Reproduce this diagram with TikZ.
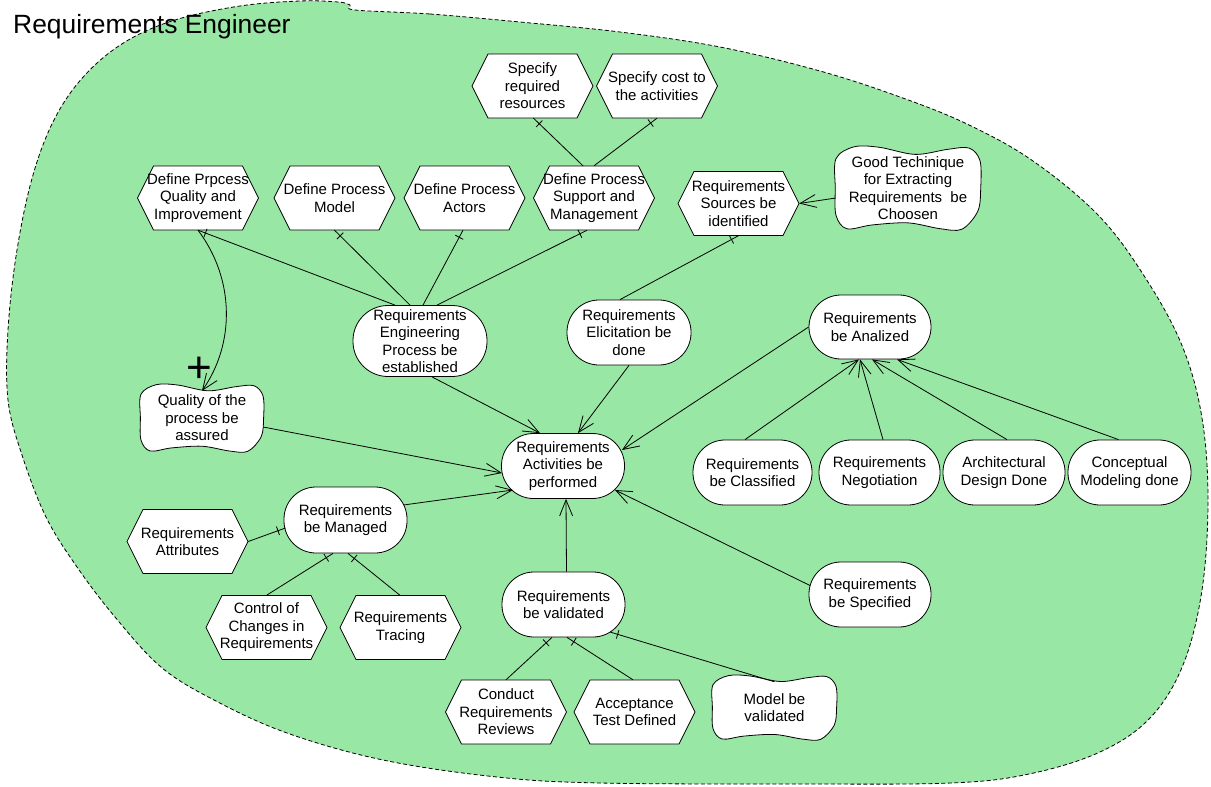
\documentclass[tikz,border=0pt]{standalone}
\usepackage{fontspec}
\setmainfont{Liberation Sans}
\usetikzlibrary{arrows.meta,decorations.markings}

\definecolor{areagreen}{RGB}{152,231,164}
\newcommand\lblfont{\fontsize{15pt}{17.5pt}\selectfont}

\tikzset{
  conn/.style={line width=0.8pt, draw=black},
  meansend/.style={conn, -{Straight Barb[length=16pt,width=13pt]}},
  declink/.style={conn, postaction={decorate, decoration={markings,
      mark=at position 8pt with {\draw[conn] (0pt,-4.5pt) -- (0pt,4.5pt);}}}},
  goalbox/.style={draw, fill=white, line width=0.8pt, rectangle, rounded corners=32pt,
      inner sep=0pt, align=center, font=\lblfont},
  hexshape/.style={draw, fill=white, line width=0.8pt},
  hexlabel/.style={rectangle, inner sep=0pt, minimum width=121pt, minimum height=64pt,
      align=center, font=\lblfont},
  wavyshape/.style={draw, fill=white, line width=0.8pt},
  wavylabel/.style={rectangle, inner sep=0pt, align=center, font=\lblfont},
}

% task: hexagon around a named label node
\newcommand\hexnode[4]{%
  \path[hexshape] ({#2-60.5},#3) -- ++(16,-32) -- ++(89,0) -- ++(16,32)
        -- ++(-16,32) -- ++(-89,0) -- cycle;
  \node[hexlabel] (#1) at (#2,#3) {#4};}

% softgoal: wavy cloud around a named label node (name, x, y, half width, half height, text)
\newcommand\wavynode[6]{%
  \path[wavyshape, shift={(#2,#3)}, xscale=#4, yscale=#5]
    plot[smooth cycle, tension=0.55] coordinates {
      (-1,-0.7) (-0.75,-0.98) (-0.4,-0.97) (0.1,-0.8) (0.55,-0.92) (0.85,-0.95)
      (1,-0.65) (1.01,0) (0.97,0.55) (0.75,0.98) (0.45,0.97) (0,0.83)
      (-0.5,0.88) (-0.85,0.97) (-1,0.65) (-1.01,0)};
  \node[wavylabel, minimum width={2*#4pt}, minimum height={2*#5pt}] (#1) at (#2,#3) {#6};}

\begin{document}
\begin{tikzpicture}[x=1pt,y=-1pt]
\fill[white] (0,0) rectangle (1211,787);
\useasboundingbox (0,0) rectangle (1211,787);

% actor boundary
\path[fill=areagreen, draw=black, line width=0.8pt, dash pattern=on 4pt off 2.5pt]
  plot[smooth cycle, tension=0.6] coordinates {
    (355,10) (430,14) (520,22) (620,32) (720,47) (820,71) (900,97) (967,124)
    (1033,161) (1100,217) (1148,282) (1183,348) (1202,418) (1208,500)
    (1202,590) (1183,665) (1150,718) (1100,752) (1029,774) (951,783) (800,784)
    (600,783) (497,777) (383,760) (287,733) (214,700) (161,667) (115,617) (77,567)
    (46,517) (22,455) (8,400) (8,330) (17,250) (33,175) (55,118) (85,75)
    (125,42) (175,20) (240,6) (300,1) (338,2) (350,5)};

% tasks
\hexnode{sres}{532.5}{86}{Specify\\required\\resources}
\hexnode{scost}{657}{86}{Specify cost to\\the activities}
\hexnode{defQ}{198}{198}{Define Prpcess\\Quality and\\Improvement}
\hexnode{defModel}{334.5}{198}{Define Process\\Model}
\hexnode{defActors}{464.5}{198}{Define Process\\Actors}
\hexnode{support}{594}{198}{Define Process\\Support and\\Management}
\hexnode{sources}{738.5}{203.5}{Requirements\\Sources be\\identified}
\hexnode{attributes}{187.5}{541.5}{Requirements\\Attributes}
\hexnode{control}{266.5}{627.5}{Control of\\Changes in\\Requirements}
\hexnode{tracing}{400.5}{627.5}{Requirements\\Tracing}
\hexnode{reviews}{506}{712}{Conduct\\Requirements\\Reviews}
\hexnode{accept}{634.5}{712}{Acceptance\\Test Defined}

% softgoals
\wavynode{good}{908}{188}{72}{42}{Good Techinique\\for Extracting\\Requirements\ \ be\\Choosen}
\wavynode{quality}{202}{418}{61}{34}{Quality of the\\process be\\assured}
\wavynode{model}{774.5}{707.5}{61.5}{32.5}{Model be\\validated}

% goals
\node[goalbox, rounded corners=35pt, minimum width=134pt, minimum height=71pt] (engproc) at (420,341)
  {Requirements\\Engineering\\Process be\\established};
\node[goalbox, minimum width=124pt, minimum height=65pt] (elicit) at (629,332.5) {Requirements\\Elicitation be\\done};
\node[goalbox, minimum width=122pt, minimum height=64pt] (analized) at (870,327) {Requirements\\be Analized};
\node[goalbox, minimum width=123pt, minimum height=65pt] (activities) at (563,466) {Requirements\\Activities be\\performed};
\node[goalbox, minimum width=119pt, minimum height=65pt] (classified) at (752.5,472.5) {Requirements\\be Classified};
\node[goalbox, minimum width=121pt, minimum height=65pt] (negotiation) at (879.5,472.5) {Requirements\\Negotiation};
\node[goalbox, minimum width=122pt, minimum height=65pt] (arch) at (1004,472.5) {Architectural\\Design Done};
\node[goalbox, minimum width=123pt, minimum height=65pt] (concept) at (1129.5,472.5) {Conceptual\\Modeling done};
\node[goalbox, minimum width=123pt, minimum height=66pt] (managed) at (345.5,520) {Requirements\\be Managed};
\node[goalbox, minimum width=123pt, minimum height=65pt] (validated) at (563.5,604.5) {Requirements\\be validated};
\node[goalbox, minimum width=122pt, minimum height=65pt] (specified) at (870,594.5) {Requirements\\be Specified};

% decomposition links
\draw[declink] ([xshift=1pt]sres.south) -- ([xshift=-11pt]support.north);
\draw[declink] (scost.south) -- (support.north);
\draw[declink] (defQ.south) -- ([xshift=-25pt]engproc.north);
\draw[declink] (defModel.south) -- ([xshift=-10pt]engproc.north);
\draw[declink] ([xshift=-1.5pt]defActors.south) -- ([xshift=3pt]engproc.north);
\draw[declink] ([xshift=-7pt]support.south) -- ([xshift=17pt]engproc.north);
\draw[declink] (sources.south) -- ([xshift=-9pt]elicit.north);
\draw[declink] ([xshift=-60pt,yshift=-8pt]managed.center) -- (attributes.east);
\draw[declink] ([xshift=-12.5pt]managed.south) -- (control.north);
\draw[declink] ([xshift=2.5pt]managed.south) -- ([xshift=-0.5pt]tracing.north);
\draw[declink] ([xshift=-11.5pt]validated.south) -- (reviews.north);
\draw[declink] ([xshift=3.5pt]validated.south) -- ([xshift=-1.5pt]accept.north);
\draw[declink] ([xshift=46.5pt,yshift=-27.5pt]validated.center) -- ([yshift=-7pt]model.north);

% means-end and contribution links
\draw[meansend] ([yshift=-10pt]good.west) -- (sources.east);
\draw[meansend] ([xshift=12pt]engproc.south) -- ([xshift=-23pt]activities.north);
\draw[meansend] (elicit.south) -- ([xshift=15pt]activities.north);
\draw[meansend] (analized.west) -- ([xshift=59pt,yshift=16pt]activities.center);
\draw[meansend] ([yshift=-9pt]quality.east) -- ([xshift=-61pt,yshift=-7pt]activities.center);
\draw[meansend] ([xshift=58pt,yshift=15pt]managed.center) -- ([xshift=-50pt,yshift=-24pt]activities.center);
\draw[meansend] ([xshift=3pt]validated.north) -- ([xshift=3pt]activities.south);
\draw[meansend] ([xshift=-60pt,yshift=9pt]specified.center) -- ([xshift=52pt,yshift=-24pt]activities.center);
\draw[meansend] ([xshift=-7.5pt]classified.north) -- ([xshift=-11pt]analized.south);
\draw[meansend] ([xshift=3.5pt]negotiation.north) -- ([xshift=-10pt]analized.south);
\draw[meansend] ([xshift=3pt]arch.north) -- ([xshift=2pt]analized.south);
\draw[meansend] ([xshift=-11pt]concept.north) -- ([xshift=27pt]analized.south);
\draw[meansend] (defQ.south) .. controls +(37,49) and +(33,-47) .. ([yshift=-7pt]quality.north);

% contribution sign and actor name
\node[inner sep=0pt, font=\fontsize{44pt}{44pt}\selectfont] (plus) at (199,370) {+};
\node[anchor=base west, inner sep=0pt, font=\fontsize{26.4pt}{30pt}\selectfont] (title) at (13,33) {Requirements Engineer};
\end{tikzpicture}
\end{document}
